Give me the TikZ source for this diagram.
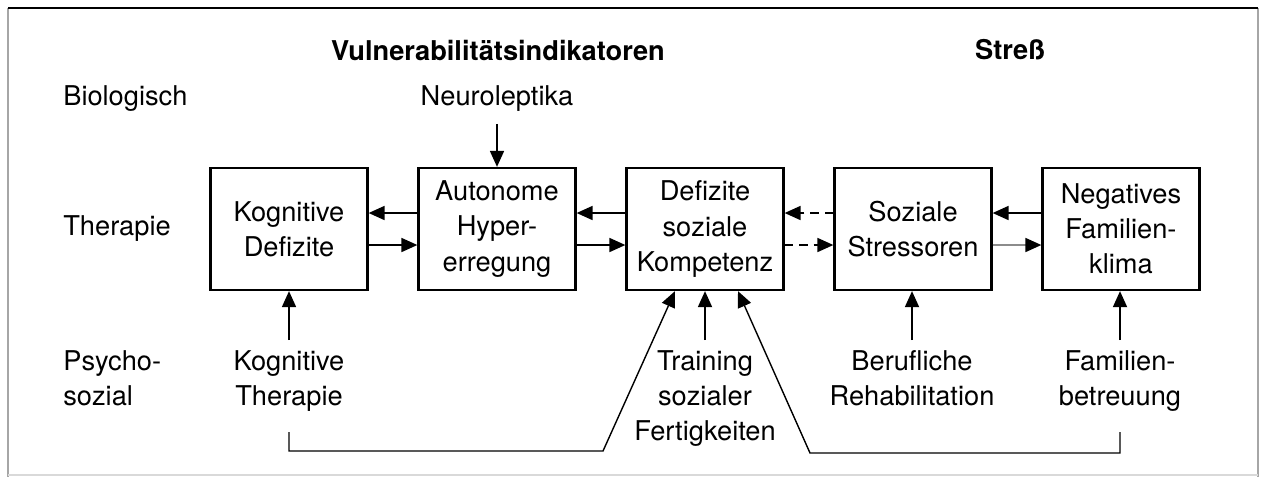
\documentclass[tikz,border=0pt]{standalone}
\usepackage{fontspec}
\setmainfont{TeX Gyre Heros}
\usetikzlibrary{arrows.meta,positioning}

\tikzstyle{block} = [rectangle, draw, line width=1.3pt, minimum width=3.14cm, minimum height=2.44cm, align=center, inner sep=0pt, font=\fontsize{15.5}{20}\selectfont]
\tikzstyle{txt} = [align=center, inner sep=0pt, font=\fontsize{15.5}{20}\selectfont]
\tikzstyle{arr} = [-{Triangle[length=0.32cm,width=0.28cm,black]}, line width=1pt]

\begin{document}
\begin{tikzpicture}[x=0.02cm, y=-0.02cm]
        \tikzset{node distance = 0.975cm}
        \useasboundingbox (0,0) rectangle (1266,477);
        % frame
        \draw[black!35, line width=0.8pt] (8,8) -- (8,477) (1258,8) -- (1258,477);
        \draw[black!15, line width=0.6pt] (8,475) -- (1258,475);
        \draw[line width=1.4pt] (8,8) -- (1258,8);
        % headings and row names
        \node (vul) at (498,50) [txt] {\textbf{Vulnerabilitätsindikatoren}};
        \node (str) at (1010,50) [txt] {\textbf{Streß}};
        \node (bio) at (63,85) [txt, anchor=north west] {Biologisch};
        \node (the) at (63,229) [txt, anchor=west] {Therapie};
        \node (psy) at (63,350) [txt, anchor=north west, align=left] {Psycho-\\sozial};
        % boxes
        \node (kd) at (289,229) [block] {Kognitive\\Defizite};
        \node (ah) [block, right=of kd] {Autonome\\Hyper-\\erregung};
        \node (dk) [block, right=of ah] {Defizite\\soziale\\Kompetenz};
        \node (ss) [block, right=of dk] {Soziale\\Stressoren};
        \node (nf) [block, right=of ss] {Negatives\\Familien-\\klima};
        % interventions
        \node (neu) at (497,85) [txt, anchor=north] {Neuroleptika};
        \node (kt) at (289,350) [txt, anchor=north] {Kognitive\\Therapie};
        \node (tsf) at (705,350) [txt, anchor=north] {Training\\sozialer\\Fertigkeiten};
        \node (br) at (912,350) [txt, anchor=north] {Berufliche\\Rehabilitation};
        \node (fb) at (1120,350) [txt, anchor=north] {Familien-\\betreuung};
        % arrows between boxes
        \draw[arr] ([yshift=0.32cm]ah.west) -- ([yshift=0.32cm]kd.east);
        \draw[arr] ([yshift=-0.32cm]kd.east) -- ([yshift=-0.32cm]ah.west);
        \draw[arr] ([yshift=0.32cm]dk.west) -- ([yshift=0.32cm]ah.east);
        \draw[arr] ([yshift=-0.32cm]ah.east) -- ([yshift=-0.32cm]dk.west);
        \draw[arr, dash pattern=on 0.17cm off 0.12cm] ([yshift=0.32cm]ss.west) -- ([yshift=0.32cm]dk.east);
        \draw[arr, dash pattern=on 0.17cm off 0.12cm] ([yshift=-0.32cm]dk.east) -- ([yshift=-0.32cm]ss.west);
        \draw[arr] ([yshift=0.32cm]nf.west) -- ([yshift=0.32cm]ss.east);
        \draw[arr, draw=black!45] ([yshift=-0.32cm]ss.east) -- ([yshift=-0.32cm]nf.west);
        % arrows from interventions
        \draw[arr, shorten <=0.25cm] (neu.south) -- (neu.south |- ah.north);
        \draw[arr, shorten <=0.2cm] (kt.north) -- (kt.north |- kd.south);
        \draw[arr, shorten <=0.2cm] (tsf.north) -- (tsf.north |- dk.south);
        \draw[arr, shorten <=0.2cm] (br.north) -- (br.north |- ss.south);
        \draw[arr, shorten <=0.2cm] (fb.north) -- (fb.north |- nf.south);
        % long connectors
        \coordinate (l1) at (289,432);
        \coordinate (l2) at (289,451);
        \coordinate (l3) at (603,451);
        \coordinate (r1) at (1120,432);
        \coordinate (r2) at (1120,453);
        \coordinate (r3) at (810,453);
        \draw[arr, line width=0.8pt] (l1) -- (l2) -- (l3) -- ([xshift=-0.6cm]dk.south);
        \draw[arr, line width=0.8pt] (r1) -- (r2) -- (r3) -- ([xshift=0.66cm]dk.south);
\end{tikzpicture}
\end{document}
